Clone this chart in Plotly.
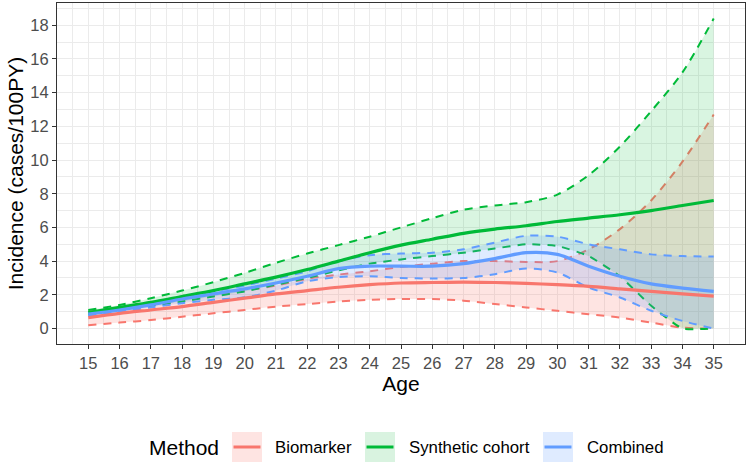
import plotly.graph_objects as go

# ---------------- data ----------------
ages = [15, 16, 17, 18, 19, 20, 21, 22, 23, 24, 25, 26, 27, 28, 29, 30, 31, 32, 33, 34, 35]

biomarker_mid = [0.65, 0.9, 1.1, 1.3, 1.55, 1.8, 2.05, 2.25, 2.45, 2.6, 2.7, 2.73, 2.75, 2.73, 2.68, 2.6, 2.5, 2.35, 2.2, 2.05, 1.92]
biomarker_hi = [1.0, 1.25, 1.5, 1.75, 2.0, 2.25, 2.55, 2.95, 3.2, 3.4, 3.65, 3.85, 4.0, 4.0, 3.95, 4.0, 4.7, 5.9, 7.6, 9.9, 12.7]
biomarker_lo = [0.2, 0.35, 0.5, 0.7, 0.9, 1.1, 1.3, 1.45, 1.6, 1.7, 1.75, 1.75, 1.65, 1.45, 1.25, 1.05, 0.85, 0.65, 0.35, 0.05, 0.0]

synthetic_mid = [0.95, 1.25, 1.55, 1.9, 2.25, 2.65, 3.05, 3.5, 4.0, 4.5, 4.95, 5.3, 5.65, 5.9, 6.1, 6.35, 6.55, 6.75, 7.0, 7.3, 7.6]
synthetic_hi = [1.1, 1.4, 1.8, 2.25, 2.75, 3.3, 3.9, 4.45, 4.95, 5.45, 6.0, 6.55, 7.05, 7.3, 7.5, 7.95, 9.1, 10.8, 12.9, 15.2, 18.4]
synthetic_lo = [0.85, 1.1, 1.35, 1.6, 1.9, 2.2, 2.6, 3.0, 3.45, 3.85, 4.1, 4.3, 4.5, 4.75, 5.0, 4.9, 4.3, 3.1, 1.35, 0.0, 0.0]

combined_mid = [0.85, 1.1, 1.4, 1.75, 2.05, 2.35, 2.7, 3.1, 3.55, 3.7, 3.7, 3.7, 3.85, 4.15, 4.5, 4.4, 3.7, 3.1, 2.65, 2.4, 2.2]
combined_hi = [0.95, 1.25, 1.55, 1.9, 2.2, 2.55, 2.95, 3.4, 4.0, 4.35, 4.45, 4.5, 4.7, 5.1, 5.5, 5.45, 5.0, 4.7, 4.4, 4.3, 4.27]
combined_lo = [0.75, 1.0, 1.25, 1.5, 1.7, 1.85, 2.25, 2.8, 3.05, 3.1, 3.0, 2.97, 3.0, 3.22, 3.56, 3.32, 2.43, 1.84, 1.05, 0.45, 0.0]

methods = ["Biomarker", "Synthetic cohort", "Combined"]
y_ticks = [0, 2, 4, 6, 8, 10, 12, 14, 16, 18]

# ---------------- style ----------------
colors = {"Biomarker": "#F8766D", "Synthetic cohort": "#00BA38", "Combined": "#619CFF"}
fills = {"Biomarker": "rgba(248,118,109,0.2)", "Synthetic cohort": "rgba(0,186,56,0.15)",
         "Combined": "rgba(97,156,255,0.2)"}
keyfills = {"Biomarker": "#FEE4E2", "Synthetic cohort": "#D9F3E0", "Combined": "#DFEBFF"}
lo_smoothing = {"Biomarker": 0.8, "Synthetic cohort": 0.45, "Combined": 0.8}
FONT = "Liberation Sans, Arial, sans-serif"
DASH = "8px,7px"
SM = 0.8

series = {
    "Biomarker": (biomarker_lo, biomarker_mid, biomarker_hi),
    "Synthetic cohort": (synthetic_lo, synthetic_mid, synthetic_hi),
    "Combined": (combined_lo, combined_mid, combined_hi),
}

fig = go.Figure()

# ribbons with dashed borders
for m in methods:
    lo, mid, hi = series[m]
    c = colors[m]
    fig.add_trace(go.Scatter(x=ages, y=lo, mode="lines", showlegend=False, hoverinfo="skip",
                             line=dict(color=c, width=2, dash=DASH, shape="spline",
                                       smoothing=lo_smoothing[m])))
    fig.add_trace(go.Scatter(x=ages, y=hi, mode="lines", fill="tonexty", fillcolor=fills[m],
                             showlegend=False, hoverinfo="skip",
                             line=dict(color=c, width=2, dash=DASH, shape="spline", smoothing=SM)))

# solid lines
for m in methods:
    lo, mid, hi = series[m]
    fig.add_trace(go.Scatter(x=ages, y=mid, mode="lines", name=m, showlegend=False,
                             line=dict(color=colors[m], width=3.2, shape="spline", smoothing=SM)))

# plot area in pixels
L, R, T, B = 57, 745, 3, 344
W, H = 748, 463
pw, ph = R - L, B - T

def px(x):
    return (x - L) / pw

def py(y):
    return (B - y) / ph

minor_x = [a + 0.5 for a in [ages[0] - 1] + ages]
minor_y = [v + 1 for v in y_ticks]

fig.update_layout(
    width=W, height=H,
    margin=dict(l=L, r=W - R, t=T, b=H - B, autoexpand=False),
    paper_bgcolor="white", plot_bgcolor="white",
    font=dict(family=FONT, color="black"),
    showlegend=False,
    xaxis=dict(range=[14, 36], tickvals=ages, ticktext=[str(a) for a in ages], automargin=False,
               showgrid=True, gridcolor="#EBEBEB", gridwidth=1.1, zeroline=False,
               showline=True, mirror=True, linecolor="#333333", linewidth=1.1,
               ticks="outside", ticklen=4, tickwidth=1.1, tickcolor="#333333",
               tickfont=dict(size=16.5, color="#4D4D4D", family=FONT),
               minor=dict(tickvals=minor_x, showgrid=True, gridcolor="#EBEBEB", gridwidth=0.55, ticklen=0),
               title=dict(text="Age", font=dict(size=21, color="black", family=FONT), standoff=4)),
    yaxis=dict(range=[-0.92, 19.32], tickvals=y_ticks, automargin=False,
               showgrid=True, gridcolor="#EBEBEB", gridwidth=1.1, zeroline=False,
               showline=True, mirror=True, linecolor="#333333", linewidth=1.1,
               ticks="outside", ticklen=4, tickwidth=1.1, tickcolor="#333333",
               tickfont=dict(size=16.5, color="#4D4D4D", family=FONT),
               minor=dict(tickvals=minor_y, showgrid=True, gridcolor="#EBEBEB", gridwidth=0.55, ticklen=0),
               title=dict(text="Incidence (cases/100PY)", font=dict(size=21, color="black", family=FONT), standoff=0)),
)

# custom ggplot-like legend
leg_y = 447
shapes = []
annots = [dict(x=px(147), y=py(leg_y), xref="paper", yref="paper", text="Method", showarrow=False,
               xanchor="left", yanchor="middle", font=dict(size=21, color="black", family=FONT))]
key_x = {"Biomarker": 232, "Synthetic cohort": 365, "Combined": 543}
lab_x = {"Biomarker": 273, "Synthetic cohort": 407, "Combined": 585}
for m in methods:
    kx = key_x[m]
    shapes.append(dict(type="rect", xref="paper", yref="paper", x0=px(kx), x1=px(kx + 30),
                       y0=py(leg_y - 15), y1=py(leg_y + 15), fillcolor=keyfills[m], line=dict(width=0),
                       layer="above"))
    shapes.append(dict(type="line", xref="paper", yref="paper", x0=px(kx + 1.5), x1=px(kx + 28.5),
                       y0=py(leg_y), y1=py(leg_y), line=dict(color=colors[m], width=3), layer="above"))
    annots.append(dict(x=px(lab_x[m]), y=py(leg_y), xref="paper", yref="paper", text=m, showarrow=False,
                       xanchor="left", yanchor="middle", font=dict(size=16.8, color="black", family=FONT)))

fig.update_layout(shapes=shapes, annotations=annots)
fig.write_html("out.html", config={"displayModeBar": False},
               post_script="document.body.style.margin='0px';document.body.style.overflow='hidden';")
